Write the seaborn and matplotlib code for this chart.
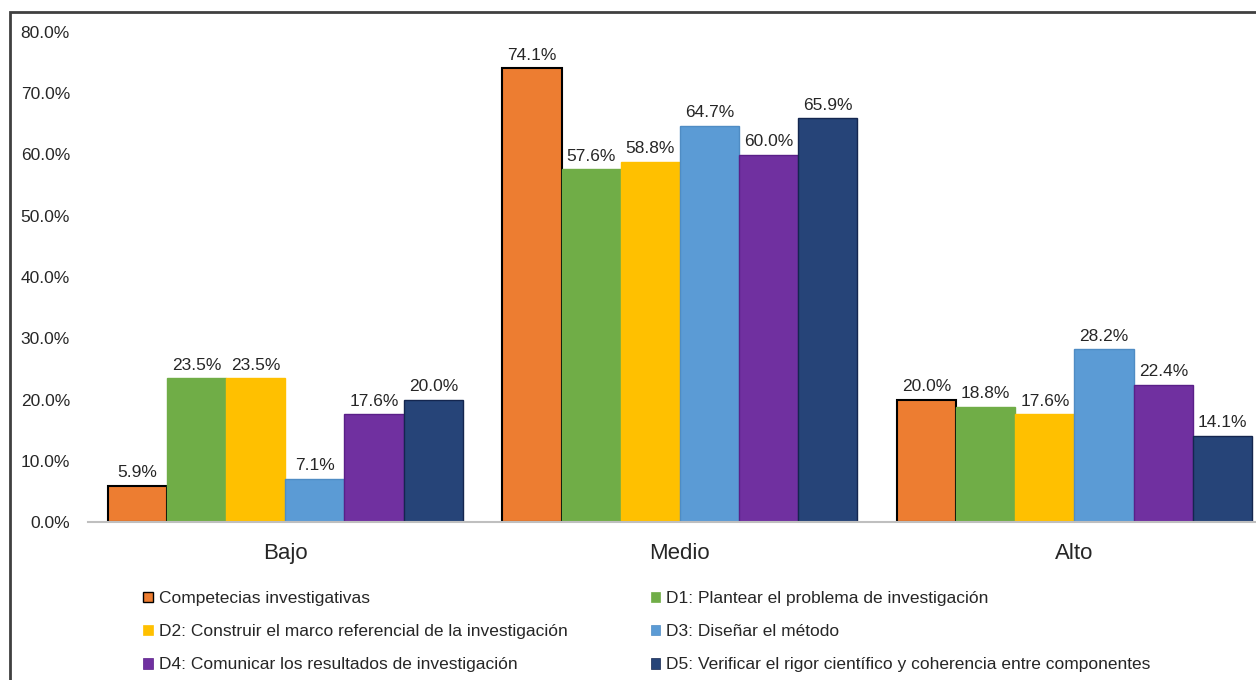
import pandas as pd
import matplotlib.pyplot as plt
import matplotlib.patches as mpatches
import seaborn as sns

# Datos
niveles = ["Bajo", "Medio", "Alto"]
series = [
    "Competecias investigativas",
    "D1: Plantear el problema de investigación",
    "D2: Construir el marco referencial de la investigación",
    "D3: Diseñar el método",
    "D4: Comunicar los resultados de investigación",
    "D5: Verificar el rigor científico y coherencia entre componentes",
]
competencias = [0.059, 0.741, 0.200]
d1 = [0.235, 0.576, 0.188]
d2 = [0.235, 0.588, 0.176]
d3 = [0.071, 0.647, 0.282]
d4 = [0.176, 0.600, 0.224]
d5 = [0.200, 0.659, 0.141]

colores = ["#ED7D31", "#70AD47", "#FFC000", "#5B9BD5", "#7030A0", "#264478"]
bordes = ["#000000", "#70AD47", "#FFC000", "#4F8CC4", "#5A1F88", "#14264F"]

valores = [competencias, d1, d2, d3, d4, d5]
filas = []
for s, vals in zip(series, valores):
    for n, v in zip(niveles, vals):
        filas.append({"Nivel": n, "Serie": s, "Valor": v})
df = pd.DataFrame(filas)

sns.set_style("white")
plt.rcParams["font.family"] = ["Liberation Sans", "DejaVu Sans"]

W, H = 1256, 680
fig = plt.figure(figsize=(W / 100, H / 100), dpi=100)
ax = fig.add_axes([88 / W, 158 / H, (W - 88) / W, 490 / H])

sns.barplot(data=df, x="Nivel", y="Valor", hue="Serie", order=niveles,
            hue_order=series, palette=colores, width=0.9, errorbar=None,
            saturation=1, ax=ax, legend=False)

for cont, borde in zip(ax.containers, bordes):
    for p in cont:
        p.set_edgecolor(borde)
        p.set_linewidth(1.5 if borde == "#000000" else 1.0)
    ax.bar_label(cont, labels=[f"{v * 100:.1f}%" for v in cont.datavalues],
                 padding=4, fontsize=12.5, color="#262626")

ax.set_ylim(0, 0.8)
ax.set_xlim(-0.5, 2.46)
ax.set_yticks([i / 10 for i in range(9)])
ax.set_yticklabels([f"{i * 10:.1f}%" for i in range(9)], fontsize=12.5, color="#262626")
ax.tick_params(axis="y", length=0, pad=13)
ax.tick_params(axis="x", length=0, pad=15, labelsize=16, labelcolor="#262626")
ax.set_xlabel("")
ax.set_ylabel("")
for lado in ["left", "right", "top"]:
    ax.spines[lado].set_visible(False)
ax.spines["bottom"].set_color("#BFBFBF")
ax.spines["bottom"].set_linewidth(1.5)

# Leyenda (orden por filas: Comp, D1 / D2, D3 / D4, D5)
orden = [0, 2, 4, 1, 3, 5]
handles = [mpatches.Patch(facecolor=colores[i], edgecolor=bordes[i],
                          linewidth=1.0 if i == 0 else 0.5) for i in orden]
etiquetas = [series[i] for i in orden]
fig.legend(handles, etiquetas, ncol=2, frameon=False, fontsize=12.5,
           loc="upper left", bbox_to_anchor=(143 / W, 1 - 591 / H),
           borderpad=0, borderaxespad=0, handlelength=0.55, handleheight=0.55,
           handletextpad=0.35, labelspacing=1.05, columnspacing=4.8,
           labelcolor="#262626")

# Marco del gráfico (recortado a la derecha y abajo)
marco = mpatches.Rectangle((10 / W, -0.1), 1.2, 1 - 12 / H + 0.1,
                           transform=fig.transFigure, fill=False,
                           edgecolor="#404040", linewidth=2, clip_on=False)
fig.patches.append(marco)

fig.savefig("out.png", dpi=100)
